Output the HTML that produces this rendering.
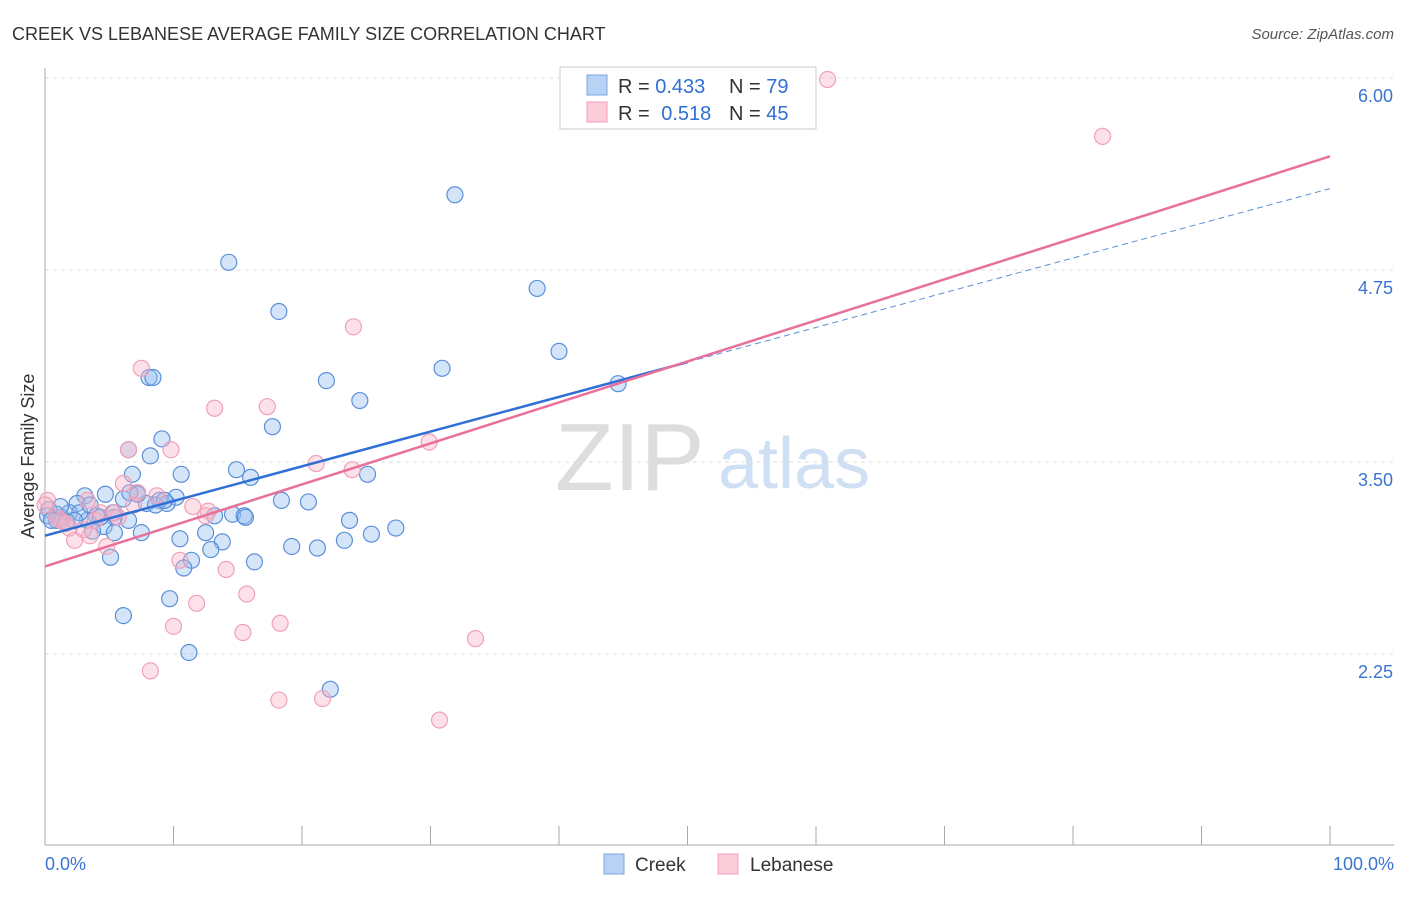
<!DOCTYPE html>
<html><head><meta charset="utf-8"><style>
body{margin:0;background:#fff;font-family:"Liberation Sans",sans-serif;}
svg text{font-family:"Liberation Sans",sans-serif;}
</style></head><body>
<svg id="chart" width="1406" height="892" xmlns="http://www.w3.org/2000/svg">
<text x="12" y="40" font-size="18" fill="#333">CREEK VS LEBANESE AVERAGE FAMILY SIZE CORRELATION CHART</text>
<text x="1394" y="39" font-size="15" fill="#555" text-anchor="end" font-style="italic">Source: ZipAtlas.com</text>
<g>
<text x="555" y="490" font-size="96" font-family="Liberation Serif" fill="#ddd">ZIP</text>
<text x="718" y="488" font-size="72" fill="#cfe0f5">atlas</text>
</g>
<g id="grid"></g>
<g id="axes"></g>
<g id="points"></g>
<g id="lines"></g>
<text transform="translate(34,456) rotate(-90)" font-size="18" fill="#333" text-anchor="middle">Average Family Size</text>
<g>
<rect x="560" y="67" width="256" height="62" fill="#fff" stroke="#ccc"/>
<rect x="587" y="75" width="20" height="20" fill="#b7d2f5" stroke="#7aa7e0"/>
<rect x="587" y="102" width="20" height="20" fill="#fbcdd9" stroke="#f0a0b8"/>
<text x="618" y="93" font-size="20" fill="#333">R = <tspan fill="#2f6fd6">0.433</tspan></text>
<text x="729" y="93" font-size="20" fill="#333">N = <tspan fill="#2f6fd6">79</tspan></text>
<text x="618" y="120" font-size="20" fill="#333">R = <tspan fill="#2f6fd6" dx="6">0.518</tspan></text>
<text x="729" y="120" font-size="20" fill="#333">N = <tspan fill="#2f6fd6">45</tspan></text>
</g>
<g>
<rect x="604" y="854" width="20" height="20" fill="#b7d2f5" stroke="#7aa7e0"/>
<text x="635" y="871" font-size="19" fill="#333">Creek</text>
<rect x="718" y="854" width="20" height="20" fill="#fbcdd9" stroke="#f0a0b8"/>
<text x="750" y="871" font-size="19" fill="#333">Lebanese</text>
</g>
</svg>
<script>
const yTicks=[2.25,3.5,4.75,6.0];
const yTickLabels=["2.25","3.50","4.75","6.00"];
const xLabels=["0.0%","100.0%"];
const creekX=[31.9,14.3,38.3,18.2,40.0,30.9,8.1,8.4,21.9,24.5,44.6,17.7,9.1,6.5,8.2,14.9,10.6,16.0,6.8,25.1,7.2,8.9,10.2,4.7,3.1,2.5,6.1,7.9,9.5,14.6,15.5,13.2,18.4,20.5,4.0,5.4,6.5,23.7,0.9,1.3,1.9,0.3,3.3,4.6,7.5,12.5,3.7,5.4,10.5,13.8,12.9,19.2,21.2,23.3,25.4,27.3,5.1,11.4,10.8,16.3,9.7,6.1,11.2,22.2,0.9,1.7,2.7,4.3,8.6,15.6,0.2,1.2,2.3,3.5,5.3,6.6,7.2,9.3,0.5];
const creekY=[5.24,4.80,4.63,4.48,4.22,4.11,4.05,4.05,4.03,3.90,4.01,3.73,3.65,3.58,3.54,3.45,3.42,3.40,3.42,3.42,3.30,3.25,3.27,3.29,3.28,3.23,3.26,3.23,3.23,3.16,3.15,3.15,3.25,3.24,3.15,3.14,3.12,3.12,3.16,3.14,3.17,3.19,3.12,3.08,3.04,3.04,3.05,3.04,3.00,2.98,2.93,2.95,2.94,2.99,3.03,3.07,2.88,2.86,2.81,2.85,2.61,2.50,2.26,2.02,3.12,3.11,3.17,3.14,3.22,3.14,3.15,3.21,3.12,3.22,3.17,3.30,3.29,3.25,3.12];
const lebX=[60.9,82.3,24.0,7.5,13.2,17.3,6.5,9.8,29.9,21.1,23.9,6.1,7.2,8.7,11.5,12.7,3.3,0.2,0.9,1.9,2.3,3.5,4.8,5.7,3.9,10.5,14.1,15.7,11.8,10.0,15.4,18.3,33.5,8.2,18.2,21.6,30.7,1.2,1.6,4.3,3.0,6.9,5.4,12.5,0];
const lebY=[5.99,5.62,4.38,4.11,3.85,3.86,3.58,3.58,3.63,3.49,3.45,3.36,3.30,3.28,3.21,3.18,3.25,3.25,3.14,3.07,2.99,3.02,2.95,3.14,3.12,2.86,2.80,2.64,2.58,2.43,2.39,2.45,2.35,2.14,1.95,1.96,1.82,3.12,3.10,3.17,3.06,3.22,3.17,3.15,3.22];
const creekFit=[3.02,5.28];
const lebFit=[2.82,5.49];
const NS="http://www.w3.org/2000/svg";
const X=v=>45+v*12.85;
const Y=v=>462-(v-3.5)*153.6;
function mk(tag,attrs,parent){const e=document.createElementNS(NS,tag);for(const k in attrs)e.setAttribute(k,attrs[k]);document.getElementById(parent).appendChild(e);return e;}
yTicks.forEach((t,i)=>{
 const l=mk('line',{x1:45,x2:1394,y1:Y(t),y2:Y(t),stroke:'#ddd','stroke-dasharray':'4,4'},'grid');
 
 
 const tx=mk('text',{x:1393,y:Y(t)+24,'font-size':18,fill:'#3b73d4','text-anchor':'end'},'grid');
 tx.textContent=yTickLabels[i];
 
 
});
const ya=mk('line',{x1:45,x2:45,y1:68,y2:845,stroke:'#aaa'},'axes');


const xa=mk('line',{x1:45,x2:1394,y1:845,y2:845,stroke:'#aaa'},'axes');


for(let i=0;i<=10;i++){
 const t=mk('line',{x1:X(i*10),x2:X(i*10),y1:826,y2:845,stroke:'#aaa'},'axes');
 
 
}
[[0,'start',45],[100,'end',1394]].forEach((p,i)=>{
 const tx=mk('text',{x:p[2],y:870,'font-size':18,fill:'#3b73d4','text-anchor':p[1]},'axes');
 tx.textContent=xLabels[i];
 
 
});
creekX.forEach((x,i)=>{
 const c=mk('circle',{cx:X(x),cy:Y(creekY[i]),r:8,fill:'rgba(147,190,240,0.4)',stroke:'#5b8fd8','stroke-width':1.2},'points');
 
 
});
lebX.forEach((x,i)=>{
 const c=mk('circle',{cx:X(x),cy:Y(lebY[i]),r:8,fill:'rgba(248,180,200,0.4)',stroke:'#f0a0b8','stroke-width':1.2},'points');
 
 
});
const cm=v=>creekFit[0]+(creekFit[1]-creekFit[0])*v/100;
const b1=mk('line',{x1:X(0),y1:Y(cm(0)),x2:X(50),y2:Y(cm(50)),stroke:'#2f6fd6','stroke-width':2.5},'lines');


const b2=mk('line',{x1:X(50),y1:Y(cm(50)),x2:X(100),y2:Y(cm(100)),stroke:'#5b8fd8','stroke-width':1,'stroke-dasharray':'6,4'},'lines');


const p1=mk('line',{x1:X(0),y1:Y(lebFit[0]),x2:X(100),y2:Y(lebFit[1]),stroke:'#e8709a','stroke-width':2.5},'lines');


</script>
</body></html>
